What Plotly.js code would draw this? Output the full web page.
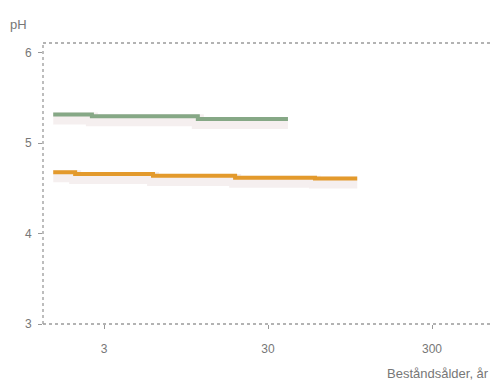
<!DOCTYPE html>
<html><head><meta charset="utf-8">
<script src="https://cdn.plot.ly/plotly-3.0.1.min.js"></script>
<style>html,body{margin:0;padding:0;background:#fff}#c{width:492px;height:380px}</style>
</head><body><div id="c"></div>
<script>
// Stand age (years, log scale) vs pH, step lines
const greenAge = [1.47, 2.53, 11.2, 39.7];
const greenPH  = [5.32, 5.30, 5.27, 5.27];
const orangeAge = [1.47, 2.0, 5.97, 18.9, 58, 105];
const orangePH  = [4.68, 4.66, 4.64, 4.62, 4.61, 4.61];
const xTickVals = [3, 30, 300];
const xTickText = ['3', '30', '300'];
const yTickVals = [3, 4, 5, 6];

const shadow = (x, y) => ({x, y, type:'scatter', mode:'lines', line:{shape:'hv', width:12, color:'rgba(225,210,210,0.35)'}, hoverinfo:'skip', showlegend:false});
const traces = [
  shadow(greenAge, greenPH.map(v=>v-0.045)),
  shadow(orangeAge, orangePH.map(v=>v-0.045)),
  {x: greenAge, y: greenPH, type:'scatter', mode:'lines', line:{shape:'hv', width:4, color:'#86a886'}, showlegend:false},
  {x: orangeAge, y: orangePH, type:'scatter', mode:'lines', line:{shape:'hv', width:4, color:'#e39a2c'}, showlegend:false}
];
const gray = '#9a9a9a';
const tf = {family:'Liberation Sans, Arial, sans-serif', size:12, color:'#777'};
const layout = {
  width:492, height:380,
  margin:{l:43, r:0, t:43, b:56},
  paper_bgcolor:'#fff', plot_bgcolor:'#fff',
  showlegend:false,
  font:tf,
  xaxis:{type:'log', range:[0.105, 2.843], tickvals:xTickVals, ticktext:xTickText, ticks:'outside', ticklen:4, tickcolor:gray, ticklabelstandoff:10, showgrid:false, zeroline:false, showline:false, tickfont:tf},
  yaxis:{range:[3, 6.11], tickvals:yTickVals, ticks:'outside', ticklen:4, tickcolor:gray, ticklabelstandoff:4, showgrid:false, zeroline:false, showline:false, tickfont:tf},
  shapes:[
    {type:'line', xref:'paper', yref:'paper', x0:0, x1:0, y0:0, y1:1, line:{color:gray, width:1.3, dash:'dot'}},
    {type:'line', xref:'paper', yref:'paper', x0:0, x1:1, y0:1, y1:1, line:{color:gray, width:1.3, dash:'dot'}},
    {type:'line', xref:'paper', yref:'paper', x0:0, x1:1, y0:0, y1:0, line:{color:gray, width:1.3, dash:'dot'}}
  ],
  annotations:[
    {text:'pH', xref:'paper', yref:'paper', x:-0.078, y:1.0, xanchor:'left', yanchor:'bottom', yshift:9, showarrow:false, font:{family:tf.family, size:13, color:'#777'}},
    {text:'Beståndsålder, år', xref:'paper', yref:'paper', x:0.998, y:0, xanchor:'right', yanchor:'top', yshift:-40, showarrow:false, font:{family:tf.family, size:13, color:'#777'}}
  ]
};
Plotly.newPlot('c', traces, layout, {staticPlot:true, displayModeBar:false});
</script></body></html>
